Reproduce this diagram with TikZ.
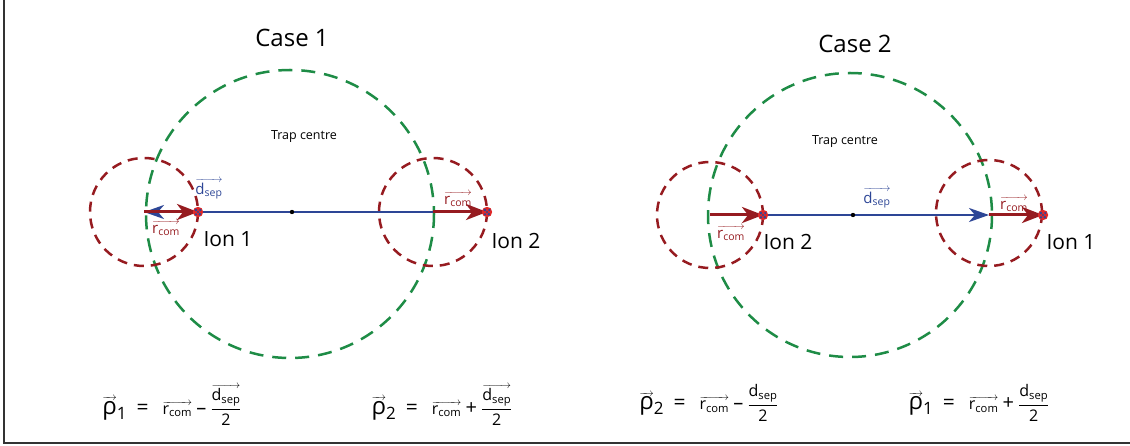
\documentclass[tikz,border=0pt]{standalone}
\usepackage{amsmath}
\usepackage{fontspec}
\setmainfont{Open Sans}
\usetikzlibrary{arrows.meta}
\definecolor{dred}{RGB}{150,27,32}
\definecolor{dgreen}{RGB}{30,140,70}
\definecolor{dblue}{RGB}{45,70,150}
\definecolor{ionred}{RGB}{225,40,40}
\newsavebox\vbx
\newcommand\vecar[1]{\sbox\vbx{#1}\leavevmode\vbox{\offinterlineskip\hbox to\wd\vbx{\fontsize{11}{11}\selectfont\rightarrowfill}\kern0.3pt\copy\vbx}}
\newcommand\rcom{\vecar{r\textsubscript{com}}}
\newcommand\dsep{\vecar{d\textsubscript{sep}}}
\newcommand\rhovec[1]{{\fontsize{24}{26}\selectfont\vecar{ρ}}\raisebox{-5pt}{\fontsize{17}{17}\selectfont #1}}
\newcommand\half[1]{$\genfrac{}{}{1.1pt}{0}{\hbox{#1}}{\hbox{2}}$}
\tikzset{
  greencirc/.style={draw=dgreen,line width=2.5pt,dash pattern=on 14pt off 9pt},
  redcirc/.style={draw=dred,line width=2.5pt,dash pattern=on 10pt off 7pt},
  redarr/.style={draw=dred,line width=3pt,-{Stealth[length=21pt,width=16pt,inset=6pt]}},
  bluearr/.style={draw=dblue,line width=2.5pt,-{Stealth[length=20pt,width=14pt,inset=6pt]}},
  blueline/.style={draw=dblue,line width=2.5pt},
  caselbl/.style={inner sep=0pt,font=\fontsize{24}{28}\selectfont},
  lbl/.style={inner sep=0pt,font=\fontsize{21}{24}\selectfont},
  small/.style={inner sep=0pt,font=\fontsize{15}{17}\selectfont},
  traplbl/.style={inner sep=0pt,font=\fontsize{12.5}{15}\selectfont},
  formula/.style={inner sep=0pt,font=\fontsize{16}{19}\selectfont},
  ion/.pic={\fill[ionred] (0,0) circle (5.2);
    \fill[dblue] (-2.2,-2) circle (1.5) (1.8,2.2) circle (1.4) (2.4,-2) circle (1.3) (-2,2.4) circle (1.2) (0,0) circle (1.1);},
}
\begin{document}
\begin{tikzpicture}[x=1pt,y=-1pt]
\useasboundingbox (0,0) rectangle (1130,446);
\draw[black!80,line width=1.8pt] (4,0) -- (4,443) -- (1130,443);

% ---------- Case 1 ----------
\node[caselbl] (case1) at (292,38) {Case 1};
\coordinate (g1) at (290,214);
\coordinate (l1) at (144,212);
\coordinate (r1) at (433,212);
\coordinate (ionA) at (198,212);
\coordinate (ionB) at (487,212);
\coordinate (mid1) at (292,212);
\draw[greencirc] (g1) circle (144);
\draw[redcirc] (l1) circle (54);
\draw[redcirc] (r1) circle (54);
\node[traplbl] (trap1) at (304,137) {Trap centre};
\draw[blueline] (ionA) -- (r1);
\draw[redarr] (r1) -- (ionB);
\draw[bluearr] (ionA) -- (l1);
\draw[redarr] (l1) -- (ionA);
\fill (mid1) circle (2.2);
\pic at (ionA) {ion};
\pic at (ionB) {ion};
\node[small,text=dblue] (d1) at (209,189) {\dsep};
\node[small,text=dred] (rc1) at (166,228) {\rcom};
\node[small,text=dred] (rc2) at (458,199) {\rcom};
\node[lbl] (ion1a) at (228,239) {Ion 1};
\node[lbl] (ion2a) at (516,241) {Ion 2};

% ---------- Case 2 ----------
\node[caselbl] (case2) at (855,44) {Case 2};
\coordinate (g2) at (850,215);
\coordinate (l2) at (710,215);
\coordinate (r2) at (989,213);
\coordinate (ionC) at (763,215);
\coordinate (ionD) at (1043,215);
\coordinate (mid2) at (853,215);
\coordinate (tipD) at (989,215);
\draw[greencirc] (g2) circle (142);
\draw[redcirc] (l2) circle (53);
\draw[redcirc] (r2) circle (53);
\node[traplbl] (trap2) at (845,142) {Trap centre};
\draw[redarr] (l2) -- (ionC);
\draw[bluearr] (ionC) -- (tipD);
\draw[redarr] (tipD) -- (ionD);
\fill (mid2) circle (2.2);
\pic at (ionC) {ion};
\pic at (ionD) {ion};
\node[small,text=dred] (rc3) at (731,233) {\rcom};
\node[small,text=dblue] (d2) at (877,198) {\dsep};
\node[small,text=dred] (rc4) at (1014,204) {\rcom};
\node[lbl] (ion2b) at (788,242) {Ion 2};
\node[lbl] (ion1b) at (1071,242) {Ion 1};

% ---------- Formulas ----------
\node[formula] (f1) at (172,405) {\rhovec{1}\hspace{10pt}{\fontsize{21}{22}\selectfont =}\hspace{14pt}\rcom\ {\fontsize{20}{20}\selectfont –}\ \half{\dsep}};
\node[formula] (f2) at (442,405) {\rhovec{2}\hspace{10pt}{\fontsize{21}{22}\selectfont =}\hspace{14pt}\rcom\ {\fontsize{20}{20}\selectfont +}\ \half{\dsep}};
\node[formula] (f3) at (709,403) {\rhovec{2}\hspace{10pt}{\fontsize{21}{22}\selectfont =}\hspace{14pt}\rcom\ {\fontsize{20}{20}\selectfont –}\ \half{d\textsubscript{sep}}};
\node[formula] (f4) at (979,403) {\rhovec{1}\hspace{10pt}{\fontsize{21}{22}\selectfont =}\hspace{14pt}\rcom\ {\fontsize{20}{20}\selectfont +}\ \half{d\textsubscript{sep}}};
\end{tikzpicture}
\end{document}
